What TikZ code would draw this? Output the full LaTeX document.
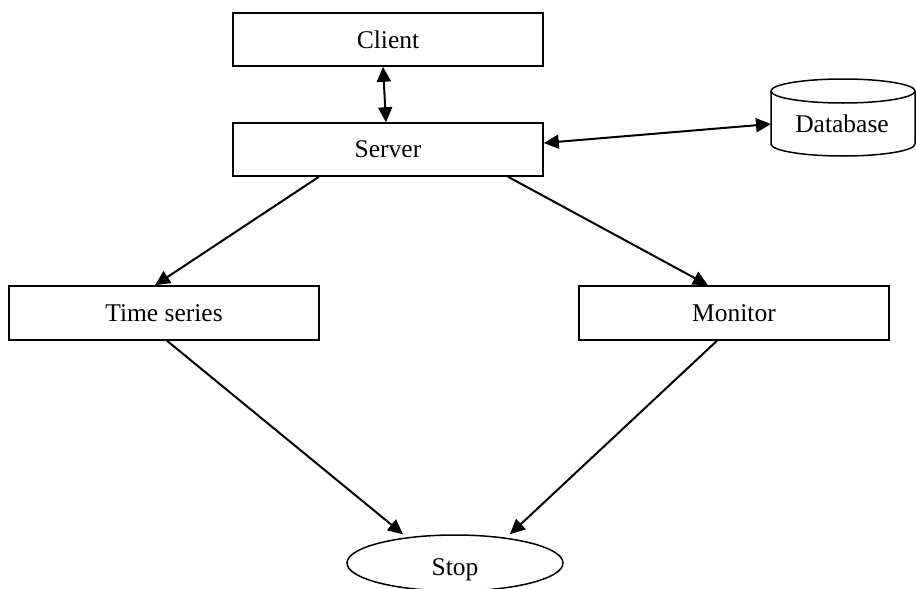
\documentclass[tikz,border=0pt]{standalone}
\usepackage{fontspec}
\setmainfont{Liberation Serif}
\usetikzlibrary{arrows.meta,shapes.geometric,calc}
\begin{document}
\begin{tikzpicture}[x=1pt,y=-1pt,
  box/.style={draw,line width=1.5pt,rectangle,minimum width=310pt,minimum height=53pt,inner sep=0pt,font=\fontsize{25.5}{30}\selectfont},
  conn/.style={line width=2pt,-{Triangle[length=15pt,width=14pt]}},
  biconn/.style={line width=2pt,{Triangle[length=15pt,width=14pt]}-{Triangle[length=15pt,width=14pt]}}]
\useasboundingbox (0,0) rectangle (916,589);
\node[box] (client) at (388,39.5) {Client};
\node[box] (server) at (388,149.5) {Server};
\node[box,minimum height=54pt] (ts) at (164,313) {Time series};
\node[box,minimum height=54pt] (mon) at (734,313) {Monitor};
\node[draw,ellipse,line width=1.5pt,minimum width=216pt,minimum height=56pt,inner sep=0pt] (stop) at (455,563) {};
\node[font=\fontsize{25.5}{30}\selectfont] (stoptext) at (455,570) {Stop};
% database cylinder
\draw[line width=1.5pt] (843,91) ellipse [x radius=72, y radius=12];
\draw[line width=1.5pt] (771,91) -- (771,144) arc[start angle=180,end angle=0,x radius=72,y radius=12] -- (915,91);
\node[font=\fontsize{25.5}{30}\selectfont] (db) at (842,124) {Database};
\coordinate (dbw) at (771,124);
% connectors
\draw[biconn] ($(client.south)+(-5,0)$) -- ($(server.north)+(-2,0)$);
\draw[biconn] ($(server.east)+(0,-6.5)$) -- (dbw);
\draw[conn] ($(server.south)+(-69,0)$) -- ($(ts.north)+(-9,0)$);
\draw[conn] ($(server.south)+(120,0)$) -- ($(mon.north)+(-26,0)$);
\draw[conn] ($(ts.south)+(3,0)$) -- ($(stop.north)+(-52,0)$);
\draw[conn] ($(mon.south)+(-17,0)$) -- ($(stop.north)+(55,0)$);
\end{tikzpicture}
\end{document}
